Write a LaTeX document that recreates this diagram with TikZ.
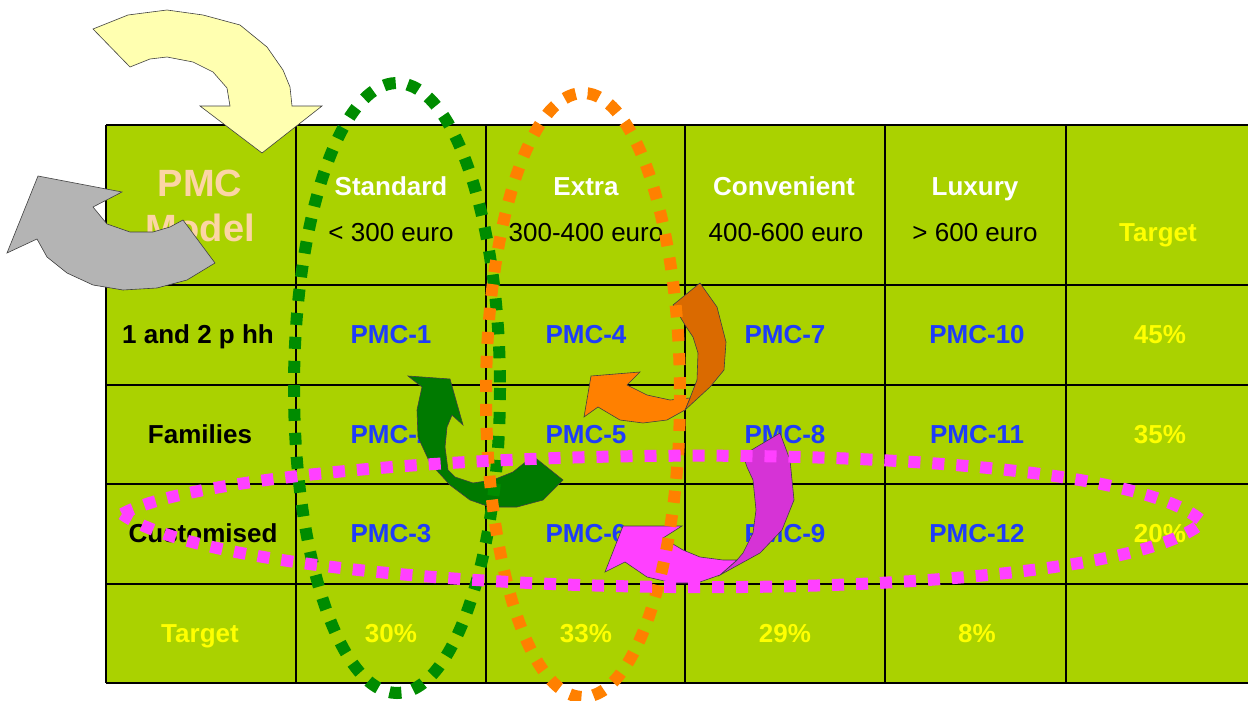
\documentclass[tikz,border=0pt]{standalone}
\usepackage{fontspec}
\setmainfont{Liberation Sans}
\definecolor{tblgreen}{RGB}{170,210,0}
\definecolor{pmcblue}{RGB}{30,60,250}
\definecolor{peach}{RGB}{252,213,165}
\definecolor{yel}{RGB}{255,255,0}
\definecolor{lyellow}{RGB}{255,255,176}
\definecolor{agray}{RGB}{180,180,180}
\definecolor{agreen}{RGB}{0,122,0}
\definecolor{dgreen}{RGB}{0,140,0}
\definecolor{orng}{RGB}{255,128,0}
\definecolor{dorng}{RGB}{218,106,0}
\definecolor{magn}{RGB}{255,64,255}
\definecolor{dmagn}{RGB}{214,51,214}
\begin{document}
\begin{tikzpicture}[x=1pt,y=-1pt,
  txt/.style={font=\fontsize{26}{30}\selectfont, inner sep=0pt, text height=19pt, text depth=0pt},
  hdr/.style={txt, font=\fontsize{26}{30}\selectfont\bfseries, text=white},
  price/.style={txt, text=black},
  rowlab/.style={txt, font=\fontsize{26}{30}\selectfont\bfseries, text=black},
  pmc/.style={txt, font=\fontsize{26}{30}\selectfont\bfseries, text=pmcblue},
  tgt/.style={txt, font=\fontsize{26}{30}\selectfont\bfseries, text=yel},
  big/.style={txt, font=\fontsize{38}{42}\selectfont\bfseries, text=peach, text height=27pt},
  tblline/.style={line width=2.8pt, black},
  shapeline/.style={draw=black!75, line width=0.6pt},
  dotline/.style={line width=12pt, dash pattern=on 12pt off 12pt}
]
\useasboundingbox (0,0) rectangle (1248,701);
\fill[tblgreen] (106,125) rectangle (1248,683);
% header row
\node[big] (pmc) at (200,183) {PMC};
\node[big] (model) at (200,228) {Model};
\node[hdr] (h1) at (391,186) {Standard};
\node[price] (p1) at (391,232) {< 300 euro};
\node[hdr] (h2) at (586,186) {Extra};
\node[price] (p2) at (586,232) {300-400 euro};
\node[hdr] (h3) at (784,186) {Convenient};
\node[price] (p3) at (786,232) {400-600 euro};
\node[hdr] (h4) at (975,186) {Luxury};
\node[price] (p4) at (975,232) {> 600 euro};
\node[tgt] (t0) at (1158,232) {Target};
% rows
\node[rowlab] (r1) at (198,334) {1 and 2 p hh};
\node[pmc] (c1) at (391,334) {PMC-1};
\node[pmc] (c4) at (586,334) {PMC-4};
\node[pmc] (c7) at (785,334) {PMC-7};
\node[pmc] (c10) at (977,334) {PMC-10};
\node[tgt] (s1) at (1160,334) {45\%};
\node[rowlab] (r2) at (200,434) {Families};
\node[pmc] (c2) at (391,434) {PMC-2};
\node[pmc] (c5) at (586,434) {PMC-5};
\node[pmc] (c8) at (785,434) {PMC-8};
\node[pmc] (c11) at (977,434) {PMC-11};
\node[tgt] (s2) at (1160,434) {35\%};
\node[rowlab] (r3) at (203,533) {Customised};
\node[pmc] (c3) at (391,533) {PMC-3};
\node[pmc] (c6) at (586,533) {PMC-6};
\node[pmc] (c9) at (785,533) {PMC-9};
\node[pmc] (c12) at (977,533) {PMC-12};
\node[tgt] (s3) at (1160,533) {20\%};
\node[tgt] (r4) at (200,633) {Target};
\node[tgt] (q1) at (391,633) {30\%};
\node[tgt] (q2) at (586,633) {33\%};
\node[tgt] (q3) at (785,633) {29\%};
\node[tgt] (q4) at (977,633) {8\%};
% grid
\foreach \yy in {125,285,385,484,584,683} \draw[tblline] (106,\yy) -- (1248,\yy);
\foreach \xx in {106,296,486,685,885,1066} \draw[tblline] (\xx,125) -- (\xx,683);
% yellow arrow
\filldraw[fill=lyellow, shapeline] (93,29) -- (128,15) -- (167,10) -- (203,15) -- (240,25) -- (267,47) -- (283,70) -- (290,87) -- (292,106) -- (322,106) -- (262,153) -- (200,106) -- (230,106) -- (227,88) -- (213,72) -- (193,62) -- (167,57) -- (150,59) -- (130,67) -- cycle;
% gray arrow
\filldraw[fill=agray, shapeline] (7,253) -- (38,176) -- (122,192) -- (93,207) -- (107,224) -- (130,232) -- (153,232) -- (170,227) -- (183,220) -- (215,263) -- (187,280) -- (157,288) -- (123,290) -- (93,285) -- (67,273) -- (47,257) -- (37,239) -- cycle;
% green arrow
\filldraw[fill=agreen, shapeline] (408,376) -- (450,379) -- (463,425) -- (452,415) -- (447,427) -- (445,447) -- (448,470) -- (455,477) -- (473,483) -- (493,480) -- (513,472) -- (533,456) -- (563,480) -- (543,500) -- (517,507) -- (490,507) -- (470,500) -- (450,485) -- (430,463) -- (418,437) -- (417,410) -- (422,387) -- cycle;
% orange arrow
\filldraw[fill=dorng, shapeline] (673,305) -- (700,283) -- (717,307) -- (726,342) -- (724,370) -- (710,387) -- (685,410) -- (690,398) -- (697,380) -- (698,353) -- (693,337) -- (685,325) -- cycle;
\filldraw[fill=orng, shapeline] (584,417) -- (591,376) -- (640,372) -- (627,385) -- (647,395) -- (670,400) -- (690,398) -- (685,410) -- (667,420) -- (643,423) -- (620,420) -- (598,407) -- cycle;
% magenta arrow
\filldraw[fill=dmagn, shapeline] (743,455) -- (780,433) -- (790,460) -- (794,500) -- (782,530) -- (760,553) -- (720,575) -- (737,560) -- (743,553) -- (753,533) -- (756,510) -- (753,480) -- (747,467) -- cycle;
\filldraw[fill=magn, shapeline] (605,572) -- (623,526) -- (682,526) -- (663,538) -- (683,550) -- (700,557) -- (723,560) -- (737,560) -- (720,575) -- (697,583) -- (673,583) -- (647,577) -- (625,562) -- cycle;
% dotted ellipses
\draw[dotline, dgreen] (397,388) ellipse [x radius=103, y radius=305];
\draw[dotline, orng] (583,395) ellipse [x radius=97, y radius=302];
\draw[dotline, magn] (122,514) .. controls (250,445) and (1100,425) .. (1203,522) .. controls (1100,615) and (250,605) .. (122,514);
\end{tikzpicture}
\end{document}
